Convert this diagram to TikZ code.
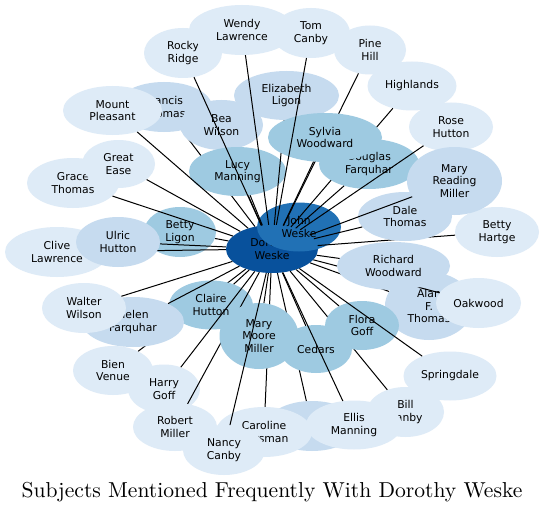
\documentclass[tikz,border=0pt]{standalone}
\usepackage{fontspec}
\newfontfamily\nodefont{DejaVu Sans}
\newfontfamily\titlefont{lmroman10-regular.otf}
\usetikzlibrary{shapes.geometric}
\definecolor{cD}{HTML}{08519C}
\definecolor{cJ}{HTML}{2171B5}
\definecolor{cM}{HTML}{9ECAE1}
\definecolor{cB}{HTML}{C6DBEF}
\definecolor{cL}{HTML}{DEEBF7}
\tikzset{
  bub/.style={ellipse, draw=none, inner sep=0pt, align=center,
    font=\nodefont\fontsize{10.8}{12.4}\selectfont},
  ed/.style={draw=black, line width=1pt},
}
\newcommand{\mkbub}[7]{%
  \node[bub, fill=#2, minimum width=#5pt, minimum height=#6pt] (#1) at (#3,#4) {#7};
  \draw[ed] (D) -- (#1);}
\begin{document}
\begin{tikzpicture}[x=1pt,y=-1pt]
\useasboundingbox[fill=white] (0,0) rectangle (544,511);
\node[bub, fill=cD, minimum width=92pt, minimum height=48pt] (D) at (272,249) {Dorothy\\Weske};
\node[bub, fill=cJ, minimum width=84pt, minimum height=49pt] (J) at (299,227) {John\\Weske};
\mkbub{francis}{cB}{164}{107}{96}{50}{Francis\\Thomas}
\mkbub{bea}{cB}{221.5}{125}{83}{50}{Bea\\Wilson}
\mkbub{lucy}{cM}{237.5}{171.5}{97}{49}{Lucy\\Manning}
\mkbub{mountp}{cL}{112.5}{110.5}{99}{49}{Mount\\Pleasant}
\mkbub{rocky}{cL}{183}{53}{78}{50}{Rocky\\Ridge}
\mkbub{eliz}{cB}{286.5}{95.5}{105}{49}{Elizabeth\\Ligon}
\mkbub{wendy}{cL}{242}{30}{106}{50}{Wendy\\Lawrence}
\mkbub{pine}{cL}{370}{50}{72}{49}{Pine\\Hill}
\mkbub{highl}{cL}{412}{86}{89}{49}{Highlands}
\mkbub{doug}{cM}{369}{164}{100}{50}{Douglas\\Farquhar}
\mkbub{sylvia}{cM}{325}{137.5}{114}{49}{Sylvia\\Woodward}
\mkbub{tom}{cL}{311}{33}{78}{50}{Tom\\Canby}
\mkbub{rose}{cL}{451}{127}{84}{49}{Rose\\Hutton}
\mkbub{hartge}{cL}{497}{232}{84}{50}{Betty\\Hartge}
\mkbub{dale}{cB}{405}{216.5}{94}{49}{Dale\\Thomas}
\mkbub{maryrm}{cB}{454.5}{181}{95}{68}{Mary\\Reading\\Miller}
\mkbub{bligon}{cM}{180}{232}{72}{50}{Betty\\Ligon}
\mkbub{grace}{cL}{73}{183}{92}{50}{Grace\\Thomas}
\mkbub{ease}{cL}{118.5}{164}{73}{48}{Great\\Ease}
\mkbub{clive}{cL}{57}{252}{104}{50}{Clive\\Lawrence}
\mkbub{ulric}{cB}{118}{242}{84}{50}{Ulric\\Hutton}
\mkbub{bien}{cL}{113}{370.5}{80}{49}{Bien\\Venue}
\mkbub{claire}{cM}{211}{305}{84}{49}{Claire\\Hutton}
\mkbub{helen}{cB}{133}{322}{102}{50}{Helen\\Farquhar}
\mkbub{walter}{cL}{84}{308}{84}{50}{Walter\\Wilson}
\mkbub{alan}{cB}{429}{306}{88}{68}{Alan\\F.\\Thomas}
\mkbub{oak}{cL}{478.5}{303}{85}{50}{Oakwood}
\mkbub{richard}{cB}{393.5}{266}{113}{48}{Richard\\Woodward}
\mkbub{bill}{cL}{405.5}{412}{77}{50}{Bill\\Canby}
\mkbub{flora}{cM}{362}{325.5}{74}{49}{Flora\\Goff}
\mkbub{spring}{cL}{450}{376}{93}{49}{Springdale}
\mkbub{hidden}{cB}{312}{426}{92}{50}{}
\mkbub{cedars}{cM}{316}{349}{72}{48}{Cedars}
\mkbub{ellis}{cL}{354}{425}{96}{49}{Ellis\\Manning}
\mkbub{harry}{cL}{164}{389}{72}{49}{Harry\\Goff}
\mkbub{robert}{cL}{175}{427}{84}{48}{Robert\\Miller}
\mkbub{caroline}{cL}{264}{432}{96}{50}{Caroline\\Horsman}
\mkbub{mmm}{cM}{259}{336}{79}{66}{Mary\\Moore\\Miller}
\mkbub{nancy}{cL}{224}{450}{82}{50}{Nancy\\Canby}
\node[anchor=base, font=\titlefont\fontsize{21.6}{25}\selectfont] (title) at (272,497) {Subjects Mentioned Frequently With Dorothy Weske};
\end{tikzpicture}
\end{document}
